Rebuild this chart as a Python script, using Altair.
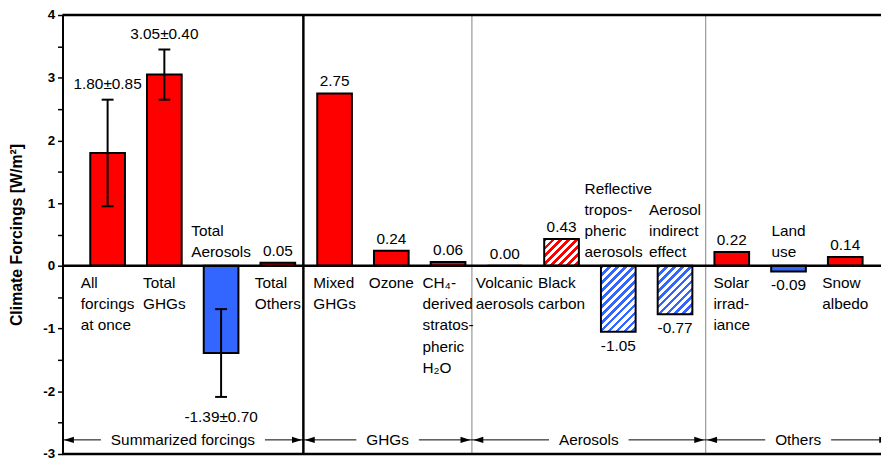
import altair as alt
import pandas as pd

# ---------------- data ----------------
categories = [
    ["All", "forcings", "at once"],
    ["Total", "GHGs"],
    ["Total", "Aerosols"],
    ["Total", "Others"],
    ["Mixed", "GHGs"],
    ["Ozone"],
    ["CH₄-", "derived", "stratos-", "pheric", "H₂O"],
    ["Volcanic", "aerosols"],
    ["Black", "carbon"],
    ["Reflective", "tropos-", "pheric", "aerosols"],
    ["Aerosol", "indirect", "effect"],
    ["Solar", "irrad-", "iance"],
    ["Land", "use"],
    ["Snow", "albedo"],
]
values = [1.80, 3.05, -1.39, 0.05, 2.75, 0.24, 0.06, 0.00, 0.43, -1.05, -0.77, 0.22, -0.09, 0.14]
errors = [0.85, 0.40, 0.70, None, None, None, None, None, None, None, None, None, None, None]
hatched = [False, False, False, False, False, False, False, False, True, True, True, False, False, False]
group_names = ["Summarized forcings", "GHGs", "Aerosols", "Others"]
group_edges = [-0.795, 3.45, 6.42, 10.54, 13.8]
y_ticks = [-3, -2.5, -2, -1.5, -1, -0.5, 0, 0.5, 1, 1.5, 2, 2.5, 3, 3.5, 4]
y_title = "Climate Forcings [W/m²]"

# ---------------- layout / style ----------------
W, H = 826, 443
XMIN, XMAX = -0.795, 13.63
YMIN, YMAX = -3, 4
PXX = W / (XMAX - XMIN)
PXY = H / (YMAX - YMIN)
BAR = 35
FONT = "Liberation Sans"
FS = 15.5
RED = "#FF0000"
BLUE = "#3366FF"
GROUP_Y = -2.775
LINE_H = 21.5

ARIAL = {" ": .278, "-": .333, ".": .278, "±": .584, "A": .667, "B": .667, "C": .722, "G": .778,
         "H": .722, "L": .556, "M": .833, "O": .778, "R": .722, "S": .667, "T": .611, "V": .667,
         "a": .556, "b": .556, "c": .5, "d": .556, "e": .556, "f": .278, "g": .556, "h": .556,
         "i": .222, "l": .222, "m": .833, "n": .556, "o": .556, "p": .556, "r": .333, "s": .5,
         "t": .278, "u": .556, "v": .5, "x": .5, "z": .5, "₂": .4, "₄": .4}


def text_w(s, size=FS):
    return sum(ARIAL.get(c, .556) for c in s) * size


def hatch(color, h_px, w_px=BAR, period=8.0, ink=3.8):
    total = w_px + h_px
    a = total / (w_px * (1 + (h_px / w_px) ** 2))
    stops = []
    k = 0.0
    while k < total:
        o1 = k / total
        o2 = min((k + ink) / total, 1.0)
        o3 = min((k + period) / total, 1.0)
        stops += [{"offset": o1, "color": color}, {"offset": o2, "color": color},
                  {"offset": o2, "color": "white"}, {"offset": o3, "color": "white"}]
        k += period
    return {"gradient": "linear", "x1": 0, "y1": 0, "x2": a, "y2": a * h_px / w_px, "stops": stops}


rows = []
for i, (lines, v, e, h) in enumerate(zip(categories, values, errors, hatched)):
    block = max(text_w(l) for l in lines)
    has_e = e is not None
    above = v < 0
    rows.append(dict(
        idx=i, value=v, zero=0.0,
        x0=i - BAR / 2 / PXX, x1=i + BAR / 2 / PXX,
        fill=RED if v >= 0 else BLUE,
        hatched=h,
        err=e if has_e else None,
        lo=(v - e) if has_e else None,
        hi=(v + e) if has_e else None,
        label="\n".join(lines),
        lx=i - block / 2 / PXX,
        ly=((len(lines) - 1) * LINE_H / PXY) if above else 0.0,
        lpos="above" if above else "below",
        vtext=(f"{v:.2f}±{e:.2f}" if has_e else f"{v:.2f}"),
        vy=((v + e) if v >= 0 else (v - e)) if has_e else v,
        vkind=("pos" if v >= 0 else "neg") + ("err" if has_e else ""),
    ))
df = pd.DataFrame(rows)

xs = alt.Scale(domain=[XMIN, XMAX], nice=False, zero=False)
ys = alt.Scale(domain=[YMIN, YMAX], nice=False, zero=False)

yaxis = alt.Axis(
    values=y_ticks,
    labelExpr="datum.value % 1 == 0 ? '' + datum.value : ''",
    title=y_title, titleFont=FONT, titleFontSize=16, titleFontWeight="bold", titleColor="black",
    titleX=-38,
    labelFont=FONT, labelFontSize=13.5, labelFontWeight="bold", labelColor="black",
    labelPadding=3, labelOverlap=False, labelFlush=False,
    tickSize=5, tickColor="black", tickWidth=1.5,
    domainColor="black", domainWidth=2, grid=False,
)


def X(field):
    return alt.X(field, scale=xs, axis=None)


def Y(field):
    return alt.Y(field, scale=ys, axis=yaxis)


base = alt.Chart(df)

solid = base.transform_filter("!datum.hatched").mark_bar(stroke="black", strokeWidth=2).encode(
    x=X("x0:Q"), x2="x1", y=Y("value:Q"), y2="zero",
    fill=alt.Fill("fill:N", scale=None),
)

layers = [solid]
for r in rows:
    if r["hatched"]:
        layers.append(
            base.transform_filter(f"datum.idx == {r['idx']}")
            .mark_bar(fill=hatch(r["fill"], abs(r["value"]) * PXY), stroke="black", strokeWidth=2)
            .encode(x=X("x0:Q"), x2="x1", y=Y("value:Q"), y2="zero")
        )

# horizontal lines: top border, zero line, bottom border
hlines = alt.Chart(pd.DataFrame({"y": [YMAX, 0, YMIN]})).mark_rule(color="black", strokeWidth=2.5).encode(
    y=Y("y:Q"))

# group dividers
div_df = pd.DataFrame({"x": group_edges[1:-1],
                       "c": ["black"] + ["#999999"] * (len(group_edges) - 3),
                       "w": [2.5] + [1.2] * (len(group_edges) - 3)})
dividers = alt.Chart(div_df).mark_rule().encode(
    x=X("x:Q"),
    color=alt.Color("c:N", scale=None), strokeWidth=alt.StrokeWidth("w:Q", scale=None))

# error bars
err_rule = base.transform_filter("isValid(datum.err)").mark_rule(color="black", strokeWidth=2).encode(
    x=X("idx:Q"), y=Y("lo:Q"), y2="hi")
err_caps = base.transform_filter("isValid(datum.err)").transform_fold(["lo", "hi"], as_=["end", "ey"]).mark_tick(
    orient="horizontal", size=12, thickness=2, color="black", opacity=1).encode(
    x=X("idx:Q"), y=Y("ey:Q"))

# value labels
vl = []
for kind, bl, dy in [("pos", "bottom", -4), ("neg", "top", 7), ("poserr", "bottom", -7.5), ("negerr", "top", 13.5)]:
    vl.append(base.transform_filter(f"datum.vkind == '{kind}'").mark_text(
        baseline=bl, dy=dy, align="center", font=FONT, fontSize=FS, color="black").encode(
        x=X("idx:Q"), y=Y("vy:Q"), text="vtext:N"))

# category labels
cl_below = base.transform_filter("datum.lpos == 'below'").mark_text(
    align="left", baseline="top", dy=10, lineBreak="\n", lineHeight=LINE_H,
    font=FONT, fontSize=FS, color="black").encode(
    x=X("lx:Q"), y=Y("ly:Q"), text="label:N")
cl_above = base.transform_filter("datum.lpos == 'above'").mark_text(
    align="left", baseline="bottom", dy=-5.5, lineBreak="\n", lineHeight=LINE_H,
    font=FONT, fontSize=FS, color="black").encode(
    x=X("lx:Q"), y=Y("ly:Q"), text="label:N")

# group annotations with arrows
GAP = 10
g_rows, seg_rows, head_rows = [], [], []
for k, name in enumerate(group_names):
    l, r = group_edges[k], group_edges[k + 1]
    mid = (l + r) / 2
    half = (text_w(name) / 2 + GAP) / PXX
    g_rows.append({"x": mid, "y": GROUP_Y, "t": name})
    seg_rows.append({"a": l, "b": mid - half, "y": GROUP_Y})
    seg_rows.append({"a": mid + half, "b": r, "y": GROUP_Y})
    head_rows.append({"x": l, "y": GROUP_Y, "s": "M0.3,0L2.3,-0.65L2.3,0.65Z"})
    head_rows.append({"x": r, "y": GROUP_Y, "s": "M-0.3,0L-2.3,-0.65L-2.3,0.65Z"})

g_text = alt.Chart(pd.DataFrame(g_rows)).mark_text(
    align="center", baseline="middle", font=FONT, fontSize=FS, color="black").encode(
    x=X("x:Q"), y=Y("y:Q"), text="t:N")
g_segs = alt.Chart(pd.DataFrame(seg_rows)).mark_rule(color="black", strokeWidth=1, clip=True).encode(
    x=X("a:Q"), x2="b", y=Y("y:Q"))
g_heads = alt.Chart(pd.DataFrame(head_rows)).mark_point(
    filled=True, size=100, color="black", opacity=1, clip=True, strokeWidth=0).encode(
    x=X("x:Q"), y=Y("y:Q"),
    shape=alt.Shape("s:N", scale=None))

chart = alt.layer(
    *layers, dividers, err_rule, err_caps, hlines, *vl, cl_below, cl_above, g_segs, g_heads, g_text
).properties(
    width=W, height=H,
    autosize=alt.AutoSizeParams(type="none"),
    padding={"left": 55, "top": 5, "right": 0, "bottom": 6},
).configure_view(stroke=None)

chart.save("out.html", embed_options={"renderer": "svg", "actions": False})
